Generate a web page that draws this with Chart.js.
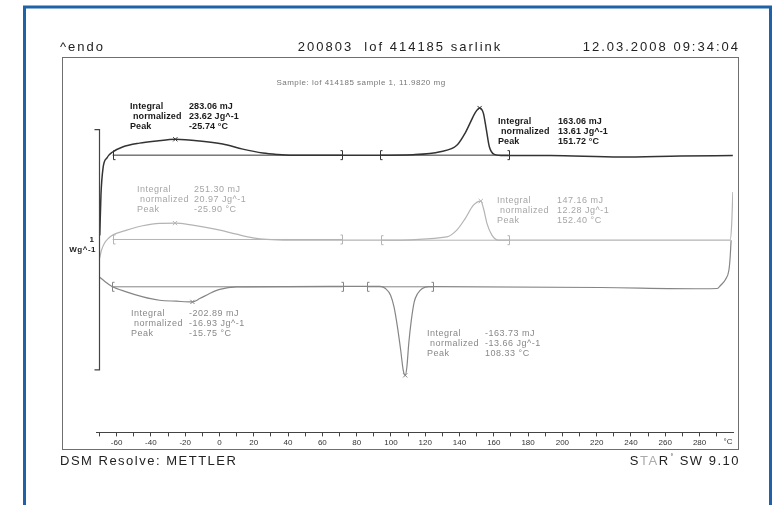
<!DOCTYPE html>
<html lang="en">
<head>
    <meta charset="UTF-8">
    <title>DSC 200803 lof 414185 sarlink</title>
    <script src="https://cdn.jsdelivr.net/npm/chart.js"></script>
    <style>
        html, body { margin: 0; padding: 0; background: #fff; }
        #wrap { width: 783px; height: 505px; }
    </style>
</head>
<body>
    <div id="wrap"><canvas id="grafico" width="783" height="505"></canvas></div>

<script>
// ---- data: temperature (°C) and heat flow (W/g, curves offset) ----

// 1st heating (dark)
const heat1T = [-69.8, -69.1, -67.9, -65.6, -62.3, -56.5, -46.6, -36.6, -25.74, -11.5, 1.9, 13.6, 25.3, 33.5, 41.1, 71.4, 93.6, 112.9, 128.7, 138.6, 143.3, 146.2, 149.1, 151.72, 153.9, 155.7, 157.4, 160.3, 164.4, 193, 233.8, 268.9, 299.4];
const heat1V = [0.82, 0.99, 1.10, 1.143, 1.167, 1.188, 1.204, 1.213, 1.22, 1.213, 1.2, 1.179, 1.163, 1.157, 1.154, 1.154, 1.154, 1.156, 1.168, 1.196, 1.246, 1.288, 1.33, 1.35, 1.329, 1.258, 1.189, 1.157, 1.153, 1.152, 1.146, 1.15, 1.152];

// 2nd heating (light grey)
const heat2T = [-69.9, -68.8, -67.0, -64.7, -62.3, -54.1, -44.8, -34.9, -25.9, -15.6, -1.8, 9.9, 19.6, 27.5, 41.1, 93.6, 132.6, 138.4, 143.3, 148.1, 152.4, 154.0, 156.0, 158.9, 162.7, 222.1, 297.8, 298.7, 299.4];
const heat2V = [0.725, 0.758, 0.788, 0.808, 0.821, 0.842, 0.86, 0.87, 0.871, 0.8625, 0.845, 0.825, 0.81, 0.803, 0.8, 0.8, 0.814, 0.842, 0.89, 0.946, 0.963, 0.932, 0.87, 0.821, 0.8, 0.8, 0.8, 0.8625, 1.0];

// cooling (mid grey)
const coolT = [-69.9, -67.0, -62.9, -54.3, -44.6, -34.9, -25.1, -15.75, -11.5, -5.7, 0.2, 9.9, 40, 93.6, 96.8, 99.8, 101.8, 103.8, 105.7, 107.2, 108.33, 109.3, 110.4, 111.9, 113.6, 115.6, 118.3, 122, 125, 222.1, 280.6, 290.3, 292.3, 295.2, 297.1, 297.8, 298.4];
const coolV = [0.646, 0.629, 0.608, 0.585, 0.564, 0.55, 0.546, 0.543, 0.557, 0.578, 0.595, 0.6055, 0.607, 0.608, 0.599, 0.571, 0.522, 0.439, 0.342, 0.258, 0.2375, 0.272, 0.37, 0.467, 0.543, 0.578, 0.599, 0.607, 0.607, 0.603, 0.598, 0.599, 0.6125, 0.6375, 0.675, 0.725, 0.8];

// peak markers (x)
const peaks1T = [-25.74, 151.72], peaks1V = [1.22, 1.35];
const peaks2T = [-25.9, 152.4],   peaks2V = [0.871, 0.963];
const peaks3T = [-15.75, 108.33], peaks3V = [0.543, 0.2375];

// integration limits [ ... ] and their baseline level
const limits1T = [-62.3, 71.4, 93.6, 168.7], limits1V = [1.154, 1.154, 1.154, 1.154];
const limits2T = [-62.3, 71.7, 94.2, 169.0], limits2V = [0.803, 0.803, 0.8, 0.8];
const limits3T = [-62.9, 71.8, 86.0, 124.6], limits3V = [0.606, 0.606, 0.606, 0.606];

// 1 W/g scale bar
const barT = -70.4;
const barV = [0.26, 1.26];

// x axis
const xMin = -72, xMax = 299.5, xStep = 10, xLabelStep = 20;

// text
const headerLeft = '^endo';
const headerMid = '200803  lof 414185 sarlink';
const headerRight = '12.03.2008 09:34:04';
const sampleText = 'Sample: lof 414185 sample 1, 11.9820 mg';
const footerLeft = 'DSM Resolve: METTLER';
const rowNames = ['Integral', 'normalized', 'Peak'];
const values1 = [['283.06 mJ', '23.62 Jg^-1', '-25.74 °C'], ['163.06 mJ', '13.61 Jg^-1', '151.72 °C']];
const values2 = [['251.30 mJ', '20.97 Jg^-1', '-25.90 °C'], ['147.16 mJ', '12.28 Jg^-1', '152.40 °C']];
const values3 = [['-202.89 mJ', '-16.93 Jg^-1', '-15.75 °C'], ['-163.73 mJ', '-13.66 Jg^-1', '108.33 °C']];

const DARK = '#333333', LIGHT = '#b4b4b4', MID = '#858585';
const FONT = "'Liberation Sans', Arial, sans-serif";

function pontos(t, v) {
    let r = [];
    for (let i = 0; i < t.length; i++) r.push({ x: t[i], y: v[i] });
    return r;
}

function curva(t, v, cor, largura) {
    return {
        data: pontos(t, v), borderColor: cor, borderWidth: largura,
        pointRadius: 0, fill: false, cubicInterpolationMode: 'monotone'
    };
}

function base(t, v, a, b, cor) {
    return {
        data: pontos([t[a], t[b]], [v[a], v[b]]), borderColor: cor, borderWidth: 1,
        pointRadius: 0, fill: false, tension: 0
    };
}

function picos(t, v, cor) {
    return {
        type: 'scatter', data: pontos(t, v), showLine: false, borderColor: cor,
        borderWidth: 1, pointStyle: 'crossRot', pointRadius: 3
    };
}

// annotation boxes (pixel layout)
const notas = [
    { x: 130, y: 107, vx: 189, cor: '#1a1a1a', peso: 'bold', val: values1[0] },
    { x: 498, y: 122, vx: 558, cor: '#1a1a1a', peso: 'bold', val: values1[1] },
    { x: 137, y: 190, vx: 194, cor: '#a6a6a6', peso: 'normal', val: values2[0] },
    { x: 497, y: 201, vx: 557, cor: '#a6a6a6', peso: 'normal', val: values2[1] },
    { x: 131, y: 314, vx: 189, cor: '#888888', peso: 'normal', val: values3[0] },
    { x: 427, y: 334, vx: 485, cor: '#888888', peso: 'normal', val: values3[1] }
];

function texto(ctx, s, x, y, fonte, cor, alinh, espaco) {
    ctx.font = fonte;
    ctx.fillStyle = cor;
    ctx.textAlign = alinh || 'left';
    ctx.textBaseline = 'middle';
    ctx.letterSpacing = (espaco || 0) + 'px';
    ctx.fillText(s, x, y);
}

const moldura = {
    id: 'moldura',
    afterDraw(chart) {
        const ctx = chart.ctx;
        const sx = chart.scales.x, sy = chart.scales.y;
        ctx.save();

        // blue page border
        ctx.strokeStyle = '#1f62a8';
        ctx.lineWidth = 3;
        ctx.beginPath();
        ctx.moveTo(24.5, 505); ctx.lineTo(24.5, 7); ctx.lineTo(770.5, 7); ctx.lineTo(770.5, 505);
        ctx.stroke();

        // plot frame
        ctx.strokeStyle = '#6f6f6f';
        ctx.lineWidth = 1;
        ctx.strokeRect(62.5, 57.5, 676, 392);

        // header / footer
        texto(ctx, headerLeft, 60, 47, '13px ' + FONT, '#222', 'left', 2);
        texto(ctx, headerMid, 400, 47, '13px ' + FONT, '#222', 'center', 2);
        texto(ctx, headerRight, 740, 47, '13px ' + FONT, '#222', 'right', 2);
        texto(ctx, sampleText, 361, 83, '8px ' + FONT, '#777', 'center', 0.5);
        texto(ctx, footerLeft, 60, 461, '13px ' + FONT, '#222', 'left', 1.5);

        // STAR logo + SW version, right aligned
        ctx.font = '13px ' + FONT;
        ctx.letterSpacing = '1.5px';
        let w1 = ctx.measureText(' SW 9.10').width;
        let wS = ctx.measureText('S').width, wTA = ctx.measureText('TA').width, wR = ctx.measureText('R').width;
        let xe = 740 - w1;
        texto(ctx, ' SW 9.10', xe, 461, '13px ' + FONT, '#222', 'left', 1.5);
        texto(ctx, '°', xe - 4, 457, '7px ' + FONT, '#333', 'left', 0);
        xe -= 5;
        texto(ctx, 'R', xe - wR, 461, '13px ' + FONT, '#222', 'left', 1.5);
        texto(ctx, 'TA', xe - wR - wTA, 461, '13px ' + FONT, '#aaa', 'left', 1.5);
        texto(ctx, 'S', xe - wR - wTA - wS, 461, '13px ' + FONT, '#222', 'left', 1.5);

        // unit label on x axis
        texto(ctx, '°C', 728, 442, '8px ' + FONT, '#333', 'center', 0);

        // scale bar ]
        const bx = Math.round(sx.getPixelForValue(barT)) + 0.5;
        const by1 = sy.getPixelForValue(barV[1]), by0 = sy.getPixelForValue(barV[0]);
        ctx.strokeStyle = '#444';
        ctx.lineWidth = 1.2;
        ctx.beginPath();
        ctx.moveTo(bx - 5, by1); ctx.lineTo(bx, by1); ctx.lineTo(bx, by0); ctx.lineTo(bx - 5, by0);
        ctx.stroke();
        texto(ctx, '1', 94, 240, 'bold 8px ' + FONT, '#222', 'right', 0);
        texto(ctx, 'Wg^-1', 96, 250, 'bold 8px ' + FONT, '#222', 'right', 0.5);

        // integration limits
        ctx.lineWidth = 1;
        const grupos = [[limits1T, limits1V, DARK], [limits2T, limits2V, LIGHT], [limits3T, limits3V, MID]];
        grupos.forEach(function (g) {
            for (let i = 0; i < g[0].length; i++) {
                const px = Math.round(sx.getPixelForValue(g[0][i])) + 0.5;
                const py = sy.getPixelForValue(g[1][i]);
                const d = (i % 2 === 0) ? 2 : -2;
                ctx.strokeStyle = g[2];
                ctx.beginPath();
                ctx.moveTo(px + d, py - 4.5); ctx.lineTo(px, py - 4.5); ctx.lineTo(px, py + 4.5); ctx.lineTo(px + d, py + 4.5);
                ctx.stroke();
            }
        });

        // result boxes
        notas.forEach(function (n) {
            const f = n.peso + ' 9px ' + FONT;
            const esp = n.peso === 'bold' ? 0.1 : 0.5;
            for (let i = 0; i < 3; i++) {
                const yy = n.y + i * 9.7;
                texto(ctx, rowNames[i], n.x + (i === 1 ? 3 : 0), yy, f, n.cor, 'left', esp);
                texto(ctx, n.val[i], n.vx, yy, f, n.cor, 'left', esp);
            }
        });

        ctx.restore();
    }
};

const config = {
    type: 'line',
    data: {
        datasets: [
            curva(coolT, coolV, MID, 1.2),
            curva(heat2T, heat2V, LIGHT, 1.2),
            curva(heat1T, heat1V, DARK, 1.5),
            base(limits1T, limits1V, 0, 1, DARK),
            base(limits1T, limits1V, 2, 3, DARK),
            base(limits2T, limits2V, 0, 1, LIGHT),
            base(limits2T, limits2V, 2, 3, LIGHT),
            base(limits3T, limits3V, 0, 1, MID),
            base(limits3T, limits3V, 2, 3, MID),
            picos(peaks1T, peaks1V, DARK),
            picos(peaks2T, peaks2V, LIGHT),
            picos(peaks3T, peaks3V, MID)
        ]
    },
    options: {
        responsive: false,
        animation: false,
        layout: { padding: { left: 96, right: 50, top: 60, bottom: 55 } },
        plugins: { legend: { display: false }, tooltip: { enabled: false } },
        scales: {
            x: {
                type: 'linear', min: xMin, max: xMax,
                border: { display: true, color: '#444', width: 1 },
                grid: { drawOnChartArea: false, tickLength: 4, tickColor: '#444' },
                ticks: {
                    stepSize: xStep, includeBounds: false, autoSkip: false, maxRotation: 0,
                    padding: 2, color: '#333', font: { family: FONT, size: 8 },
                    callback: function (v) { return (Math.round(v) % xLabelStep === 0) ? Math.round(v) : ''; }
                }
            },
            y: { type: 'linear', display: false, min: 0, max: 1.55 }
        }
    },
    plugins: [moldura]
};

let meuGrafico = new Chart(document.getElementById('grafico'), config);
</script>
</body>
</html>
